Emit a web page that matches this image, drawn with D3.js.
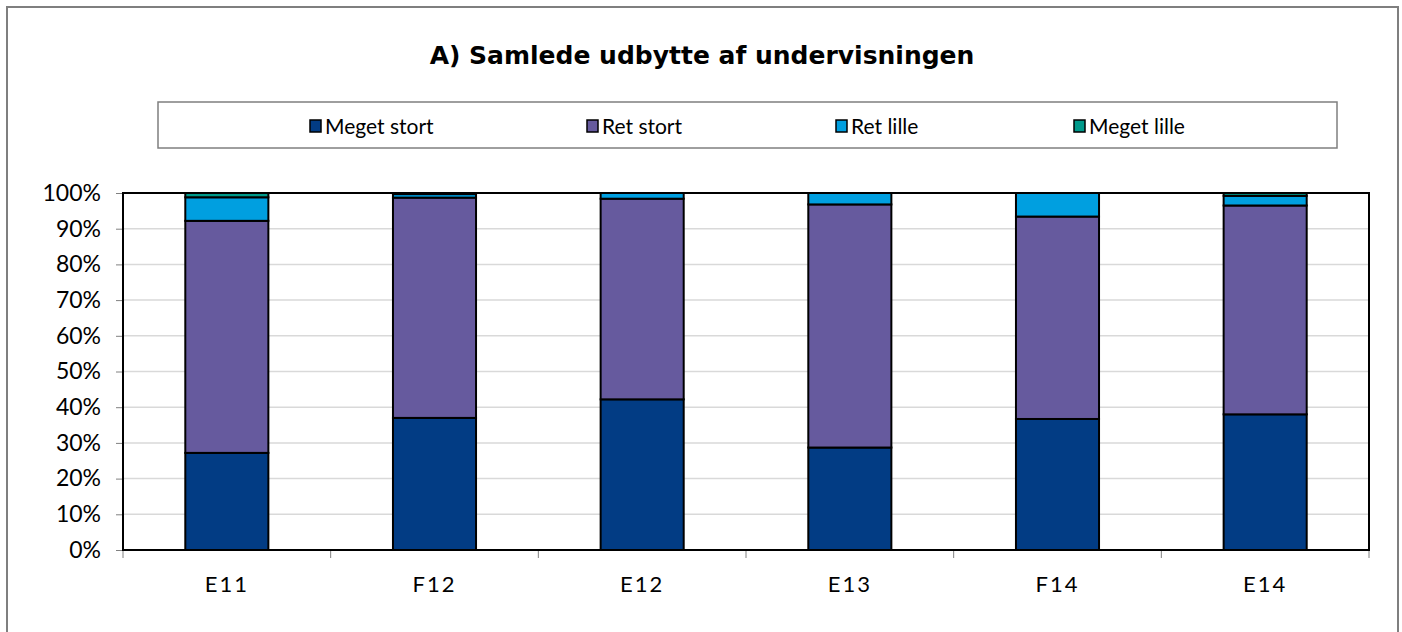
<!DOCTYPE html>
<html>
<head>
<meta charset="utf-8">
<style>
    body { margin: 0; background: #fff; }
    svg { display: block; }
</style>
</head>
<body>
<div id="chart"></div>
<script src="https://d3js.org/d3.v7.min.js"></script>
<script type="text/javascript">
    // data (percent of answers)
    var categories = ["E11", "F12", "E12", "E13", "F14", "E14"];
    var seriesNames = ["Meget stort", "Ret stort", "Ret lille", "Meget lille"];
    var megetStort = [27.2, 37.0, 42.2, 28.7, 36.7, 38.0];
    var retStort = [65.0, 61.7, 56.2, 68.1, 56.7, 58.5];
    var retLille = [6.6, 1.0, 1.6, 3.2, 6.6, 2.7];
    var megetLille = [1.2, 0.3, 0.0, 0.0, 0.0, 0.8];
    var yTicks = [0, 10, 20, 30, 40, 50, 60, 70, 80, 90, 100];
    var colors = ["#023c84", "#665a9e", "#009fe0", "#00998a"];

    var w = 1402;
    var h = 632;
    var m = { left: 123, right: 1369, top: 193, bottom: 550 };

    // build rows for the stack
    var rows = categories.map(function (c, i) {
        return {
            cat: c,
            "Meget stort": megetStort[i],
            "Ret stort": retStort[i],
            "Ret lille": retLille[i],
            "Meget lille": megetLille[i]
        };
    });
    var stacked = d3.stack().keys(seriesNames)(rows);

    var svg = d3.select('#chart')
        .append('svg')
        .attr('width', w)
        .attr('height', h);

    // outer frame
    svg.append('rect')
        .attr('x', 7).attr('y', 7)
        .attr('width', 1391).attr('height', 640)
        .attr('fill', 'none')
        .attr('stroke', '#7f7f7f')
        .attr('stroke-width', 2);

    svg.append('text')
        .text("A) Samlede udbytte af undervisningen")
        .attr('x', 702)
        .attr('y', 64)
        .attr('text-anchor', 'middle')
        .style('font-family', '"DejaVu Sans", sans-serif')
        .style('font-weight', 'bold')
        .style('font-size', '25px')
        .attr('fill', '#000');

    // legend
    var legendX = [310, 587, 836, 1074];
    svg.append('rect')
        .attr('x', 158).attr('y', 102)
        .attr('width', 1179).attr('height', 46)
        .attr('fill', '#fff')
        .attr('stroke', '#7f7f7f')
        .attr('stroke-width', 1.5);

    var lg = svg.selectAll('.lg')
        .data(seriesNames)
        .enter()
        .append('g')
        .attr('transform', function (d, i) { return 'translate(' + legendX[i] + ',120)'; });
    lg.append('rect')
        .attr('x', 0).attr('y', 0)
        .attr('width', 11).attr('height', 12)
        .attr('fill', function (d, i) { return colors[i]; })
        .attr('stroke', '#000')
        .attr('stroke-width', 1.5);
    lg.append('text')
        .text(function (d) { return d; })
        .attr('x', 15)
        .attr('y', 14)
        .style('font-family', 'Lato, sans-serif')
        .style('font-size', '21px')
        .attr('fill', '#000');

    var x = d3.scaleBand()
        .domain(categories)
        .range([m.left, m.right])
        .paddingInner(0.6)
        .paddingOuter(0.3);

    var xb = d3.scaleBand()
        .domain(categories)
        .range([m.left, m.right]);

    var y = d3.scaleLinear()
        .domain([0, 100])
        .range([m.bottom, m.top]);

    // gridlines
    svg.append('g')
        .selectAll('line')
        .data(yTicks.slice(1))
        .enter()
        .append('line')
        .attr('x1', m.left).attr('x2', m.right)
        .attr('y1', function (d) { return y(d); })
        .attr('y2', function (d) { return y(d); })
        .attr('stroke', '#d9d9d9')
        .attr('stroke-width', 1.5);

    // y axis
    var yAxis = d3.axisLeft(y)
        .tickValues(yTicks)
        .tickSize(7)
        .tickPadding(15)
        .tickFormat(function (d) { return d + '%'; });
    var gy = svg.append('g')
        .attr('transform', 'translate(' + m.left + ',0)')
        .call(yAxis);
    gy.select('.domain').remove();
    gy.selectAll('line').attr('stroke', '#808080');
    gy.selectAll('text')
        .style('font-family', 'Lato, sans-serif')
        .style('font-size', '23px')
        .attr('fill', '#000');

    // x axis ticks at category boundaries
    var bounds = categories.map(function (c) { return xb(c); }).concat([m.right]);
    svg.append('g')
        .selectAll('line')
        .data(bounds)
        .enter()
        .append('line')
        .attr('x1', function (d) { return d; })
        .attr('x2', function (d) { return d; })
        .attr('y1', m.bottom).attr('y2', m.bottom + 8)
        .attr('stroke', '#808080')
        .attr('stroke-width', 1);

    svg.append('g')
        .selectAll('text')
        .data(categories)
        .enter()
        .append('text')
        .text(function (d) { return d; })
        .attr('x', function (d) { return xb(d) + xb.bandwidth() / 2; })
        .attr('y', 592)
        .attr('text-anchor', 'middle')
        .style('font-family', 'Lato, sans-serif')
        .style('font-size', '22px')
        .style('letter-spacing', '2px')
        .attr('fill', '#000');

    // bars
    svg.append('g')
        .selectAll('g')
        .data(stacked)
        .enter()
        .append('g')
        .attr('fill', function (d, i) { return colors[i]; })
        .selectAll('rect')
        .data(function (d) { return d.filter(function (s) { return s[1] - s[0] > 0; }); })
        .enter()
        .append('rect')
        .attr('x', function (d) { return x(d.data.cat); })
        .attr('y', function (d) { return y(d[1]); })
        .attr('width', x.bandwidth())
        .attr('height', function (d) { return y(d[0]) - y(d[1]); })
        .attr('stroke', '#000')
        .attr('stroke-width', 2);

    // plot border
    svg.append('rect')
        .attr('x', m.left).attr('y', m.top)
        .attr('width', m.right - m.left)
        .attr('height', m.bottom - m.top)
        .attr('fill', 'none')
        .attr('stroke', '#000')
        .attr('stroke-width', 2);
</script>
</body>
</html>
